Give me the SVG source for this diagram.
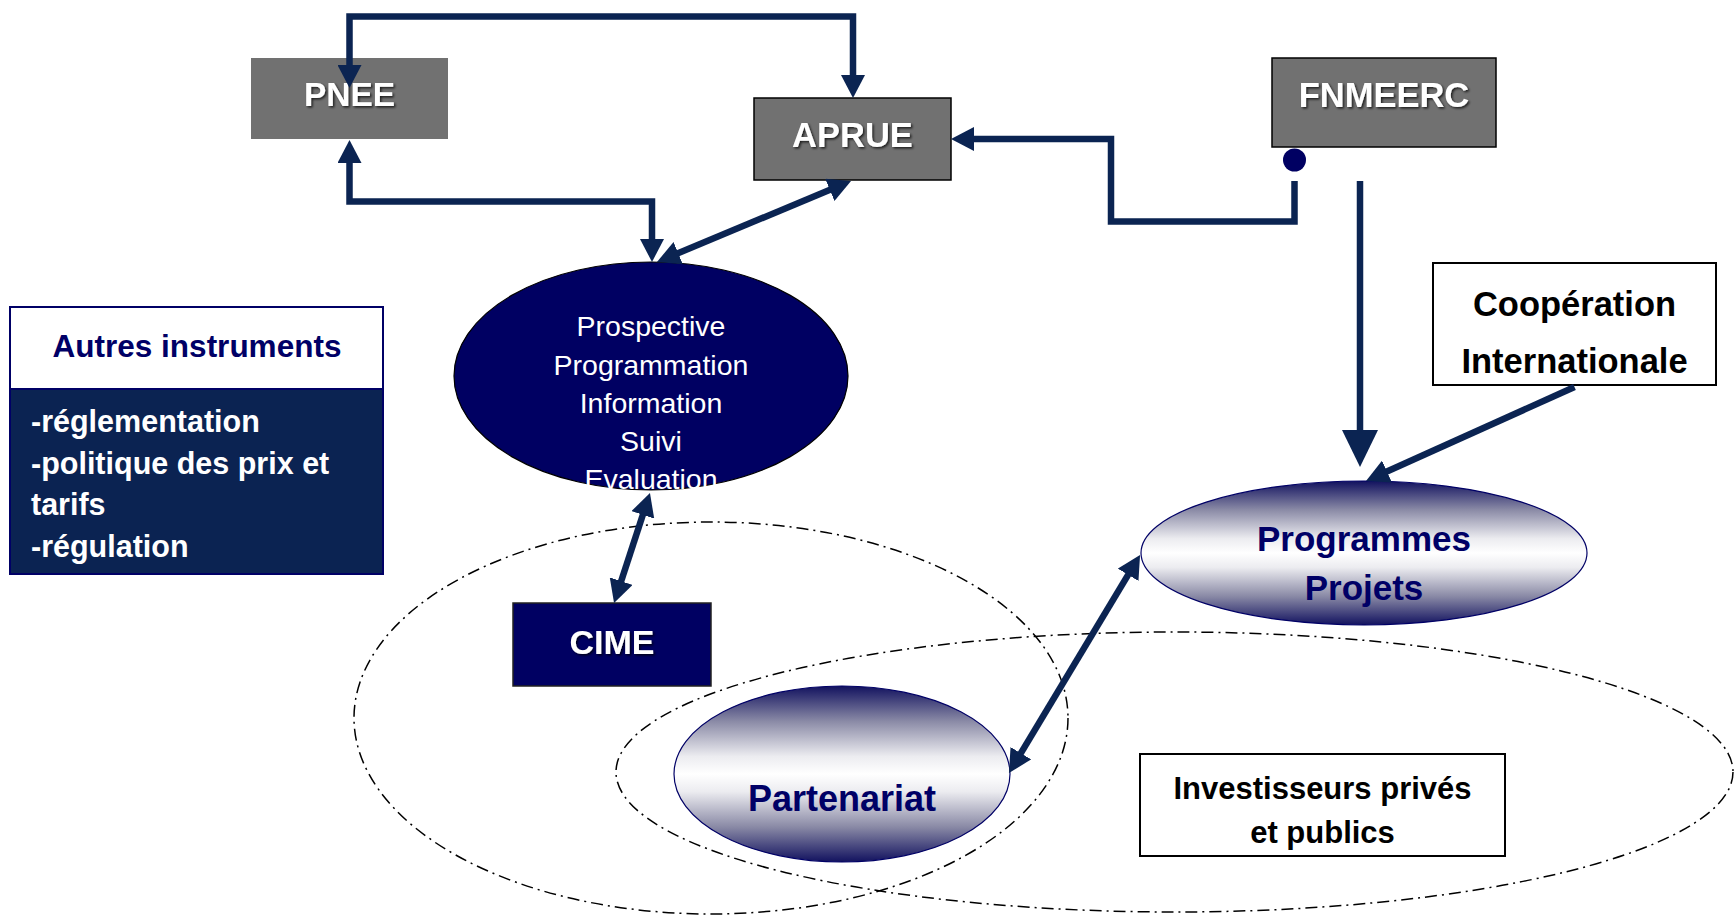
<svg xmlns="http://www.w3.org/2000/svg" width="1734" height="917" viewBox="0 0 1734 917">
<style>
.lbl{font-family:"Liberation Sans",Arial,sans-serif;font-weight:bold;fill:#fff;text-anchor:middle}
.navyb{font-family:"Liberation Sans",Arial,sans-serif;font-weight:bold;fill:#000066;text-anchor:middle}
.blk{font-family:"Liberation Sans",Arial,sans-serif;font-weight:bold;fill:#000;text-anchor:middle}
.wr{font-family:"Liberation Sans",Arial,sans-serif;fill:#fff;text-anchor:middle;font-size:28.5px}
.wl{font-family:"Liberation Sans",Arial,sans-serif;font-weight:bold;fill:#fff;font-size:30.5px}
.conn{fill:none;stroke:#0b2452;stroke-width:6.5;stroke-linejoin:miter}
.dd{fill:none;stroke:#000;stroke-width:1.5;stroke-dasharray:12 5 2 5}
.gbox{fill:#717171}
</style>
<defs>
<marker id="ah" markerUnits="userSpaceOnUse" markerWidth="24" markerHeight="24" refX="8" refY="12" orient="auto-start-reverse" viewBox="0 0 24 24">
<path d="M0,0 L23,12 L0,24 z" fill="#0b2452"/>
</marker>
<marker id="ahL" markerUnits="userSpaceOnUse" markerWidth="38" markerHeight="36" refX="12" refY="18" orient="auto" viewBox="0 0 38 36">
<path d="M0,0 L37,18 L0,36 z" fill="#0b2452"/>
</marker>
<linearGradient id="gr" x1="0" y1="0" x2="0" y2="1">
<stop offset="0" stop-color="#12125f"/>
<stop offset="0.2" stop-color="#8a8aa6"/>
<stop offset="0.4" stop-color="#ececf0"/>
<stop offset="0.5" stop-color="#ffffff"/>
<stop offset="0.6" stop-color="#ececf0"/>
<stop offset="0.8" stop-color="#8a8aa6"/>
<stop offset="1" stop-color="#12125f"/>
</linearGradient>
<filter id="sh" x="-10%" y="-10%" width="130%" height="140%">
<feDropShadow dx="1.5" dy="1.5" stdDeviation="0.8" flood-color="#000" flood-opacity="0.75"/>
</filter>
</defs>
<rect width="1734" height="917" fill="#fff"/>

<g id="zones">
<ellipse class="dd" cx="711" cy="718" rx="357" ry="196"/>
<ellipse class="dd" cx="1174.5" cy="772" rx="558.5" ry="140"/>
</g>

<g id="pnee">
<rect class="gbox" x="251" y="58" width="197" height="81"/>
<text class="lbl" x="349.5" y="106" font-size="33.5" filter="url(#sh)">PNEE</text>
</g>
<g id="aprue">
<rect class="gbox" x="754" y="98" width="197" height="82" stroke="#000" stroke-width="1.5"/>
<text class="lbl" x="852.5" y="147" font-size="34.5" filter="url(#sh)">APRUE</text>
</g>
<g id="fnmeerc">
<rect class="gbox" x="1272" y="58" width="224" height="89" stroke="#000" stroke-width="1.5"/>
<text class="lbl" x="1384" y="107" font-size="34.5" filter="url(#sh)">FNMEERC</text>
<circle cx="1294.5" cy="160" r="11.5" fill="#000062"/>
</g>
<g id="fonctions">
<ellipse cx="651" cy="376" rx="197" ry="114" fill="#000062" stroke="#000" stroke-width="1.2"/>
<text class="wr" x="651" y="336">Prospective</text>
<text class="wr" x="651" y="375">Programmation</text>
<text class="wr" x="651" y="413">Information</text>
<text class="wr" x="651" y="451">Suivi</text>
<text class="wr" x="651" y="489">Evaluation</text>
</g>
<g id="autres">
<rect x="10" y="307" width="373" height="267" fill="#0b2352" stroke="#000066" stroke-width="2"/>
<rect x="11" y="308" width="371" height="81" fill="#fff"/>
<line x1="10" y1="389" x2="383" y2="389" stroke="#000066" stroke-width="2"/>
<text class="navyb" x="197" y="357" font-size="31.5">Autres instruments</text>
<text class="wl" x="31" y="432">-réglementation</text>
<text class="wl" x="31" y="474">-politique des prix et</text>
<text class="wl" x="31" y="515">tarifs</text>
<text class="wl" x="31" y="557">-régulation</text>
</g>
<g id="cime">
<rect x="513" y="603" width="198" height="83" fill="#000062" stroke="#222" stroke-width="1.5"/>
<text class="lbl" x="612" y="654" font-size="34" filter="url(#sh)">CIME</text>
</g>
<g id="programmes">
<ellipse cx="1364" cy="553" rx="223" ry="72" fill="url(#gr)" stroke="#000066" stroke-width="1.2"/>
<text class="navyb" x="1364" y="551" font-size="35">Programmes</text>
<text class="navyb" x="1364" y="600" font-size="35">Projets</text>
</g>
<g id="partenariat">
<ellipse cx="842" cy="774" rx="168" ry="88" fill="url(#gr)" stroke="#000066" stroke-width="1.2"/>
<text class="navyb" x="842" y="811" font-size="36">Partenariat</text>
</g>
<g id="cooperation">
<rect x="1433" y="263" width="283" height="122" fill="#fff" stroke="#000" stroke-width="2"/>
<text class="blk" x="1574.5" y="316" font-size="34.5">Coopération</text>
<text class="blk" x="1574.5" y="373" font-size="34.5">Internationale</text>
</g>
<g id="investisseurs">
<rect x="1140" y="754" width="365" height="102" fill="#fff" stroke="#000" stroke-width="2"/>
<text class="blk" x="1322.5" y="799" font-size="31">Investisseurs privés</text>
<text class="blk" x="1322.5" y="843" font-size="31">et publics</text>
</g>

<g id="connectors">
<path class="conn" d="M349.5,73 V16.5 H853 V83" marker-start="url(#ah)" marker-end="url(#ah)"/>
<path class="conn" d="M349.5,155 V201.5 H652 V247" marker-start="url(#ah)" marker-end="url(#ah)"/>
<path class="conn" d="M670.8,256.2 L837.2,186.8" marker-start="url(#ah)" marker-end="url(#ah)"/>
<path class="conn" d="M618.7,588.7 L645.3,507.3" marker-start="url(#ah)" marker-end="url(#ah)"/>
<path class="conn" d="M1016.7,760.1 L1132.3,567.9" marker-start="url(#ah)" marker-end="url(#ah)"/>
<path class="conn" d="M1294.5,181 V221.5 H1111 V139 H966" marker-end="url(#ah)"/>
<path class="conn" d="M1360,181 V442" stroke-width="10.5" marker-end="url(#ahL)"/>
<path class="conn" d="M1574.5,387 L1379.7,474.8" stroke-width="7" marker-end="url(#ah)"/>
</g>
</svg>
